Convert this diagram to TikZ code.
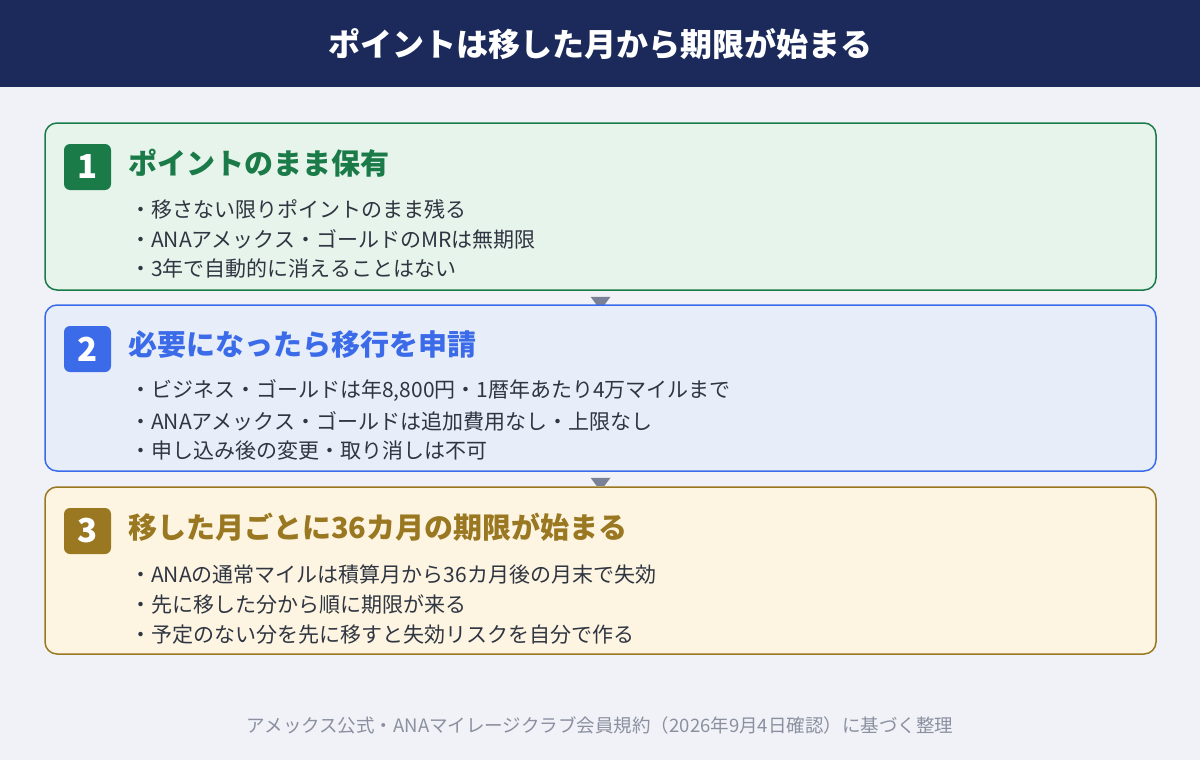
\documentclass[tikz,border=0pt]{standalone}
\usepackage{fontspec}
\setmainfont{Noto Sans CJK JP}
\usetikzlibrary{positioning}

\definecolor{pagebg}{HTML}{F0F2F7}
\definecolor{navy}{HTML}{1C2A5B}
\definecolor{greenline}{HTML}{1A7A48}
\definecolor{greenfill}{HTML}{E7F4EB}
\definecolor{blueline}{HTML}{3B6BE8}
\definecolor{bluefill}{HTML}{E8EEF9}
\definecolor{goldline}{HTML}{9A7821}
\definecolor{goldfill}{HTML}{FDF5E2}
\definecolor{itemtext}{HTML}{2F3541}
\definecolor{arrowgray}{HTML}{7A8196}
\definecolor{notegray}{HTML}{8A90A0}

\begin{document}
\begin{tikzpicture}[x=1pt,y=-1pt,
  step_box/.style={draw,rounded corners=12pt,line width=1.5pt,minimum width=1111pt,inner sep=0pt},
  badge/.style={rounded corners=6pt,minimum width=47pt,minimum height=46pt,inner sep=0pt,text=white,font=\bfseries\fontsize{33}{33}\selectfont},
  step_title/.style={anchor=west,inner sep=0pt,font=\bfseries\fontsize{29}{29}\selectfont},
  item/.style={anchor=west,inner sep=0pt,text=itemtext,font=\fontsize{21}{21}\selectfont}]

    \fill[pagebg] (0,0) rectangle (1200,760);
    \useasboundingbox (0,0) rectangle (1200,760);

    % header
    \node[fill=navy,minimum width=1200pt,minimum height=87pt,inner sep=0pt,anchor=north west] (header) at (0,0) {};
    \node[text=white,font=\bfseries\fontsize{32}{32}\selectfont] (maintitle) at (600,44) {ポイントは移した月から期限が始まる};

    % step 1
    \node[step_box,draw=greenline,fill=greenfill,minimum height=167pt] (box1) at (600.5,206.5) {};
    \node[badge,fill=greenline] (b1) at (87.5,167) {1};
    \node[step_title,text=greenline] (t1) at (128,163) {ポイントのまま保有};
    \node[item] (i11) at (130,209) {・移さない限りポイントのまま残る};
    \node[item] (i12) at (130,239) {・ANAアメックス・ゴールドのMRは無期限};
    \node[item] (i13) at (130,269) {・3年で自動的に消えることはない};

    \fill[arrowgray] ([xshift=-10pt,yshift=-6pt]box1.south) -- ([xshift=10pt,yshift=-6pt]box1.south)
        -- ([xshift=4pt,yshift=-14pt]box1.south) -- ([xshift=-4pt,yshift=-14pt]box1.south) -- cycle;

    % step 2
    \node[step_box,draw=blueline,fill=bluefill,minimum height=166pt] (box2) at (600.5,388) {};
    \node[badge,fill=blueline] (b2) at (87.5,349) {2};
    \node[step_title,text=blueline] (t2) at (128,345) {必要になったら移行を申請};
    \node[item] (i21) at (130,391) {・ビジネス・ゴールドは年8,800円・1暦年あたり4万マイルまで};
    \node[item] (i22) at (130,421) {・ANAアメックス・ゴールドは追加費用なし・上限なし};
    \node[item] (i23) at (130,451) {・申し込み後の変更・取り消しは不可};

    \fill[arrowgray] ([xshift=-10pt,yshift=-6pt]box2.south) -- ([xshift=10pt,yshift=-6pt]box2.south)
        -- ([xshift=4pt,yshift=-14pt]box2.south) -- ([xshift=-4pt,yshift=-14pt]box2.south) -- cycle;

    % step 3
    \node[step_box,draw=goldline,fill=goldfill,minimum height=167pt] (box3) at (600.5,570.5) {};
    \node[badge,fill=goldline] (b3) at (87.5,531) {3};
    \node[step_title,text=goldline] (t3) at (128,527) {移した月ごとに36カ月の期限が始まる};
    \node[item] (i31) at (130,575) {・ANAの通常マイルは積算月から36カ月後の月末で失効};
    \node[item] (i32) at (130,605) {・先に移した分から順に期限が来る};
    \node[item] (i33) at (130,635) {・予定のない分を先に移すと失効リスクを自分で作る};

    % source note
    \node[text=notegray,font=\fontsize{18.5}{18.5}\selectfont] (note) at (600,725) {アメックス公式・ANAマイレージクラブ会員規約（2026年9月4日確認）に基づく整理};
\end{tikzpicture}
\end{document}
